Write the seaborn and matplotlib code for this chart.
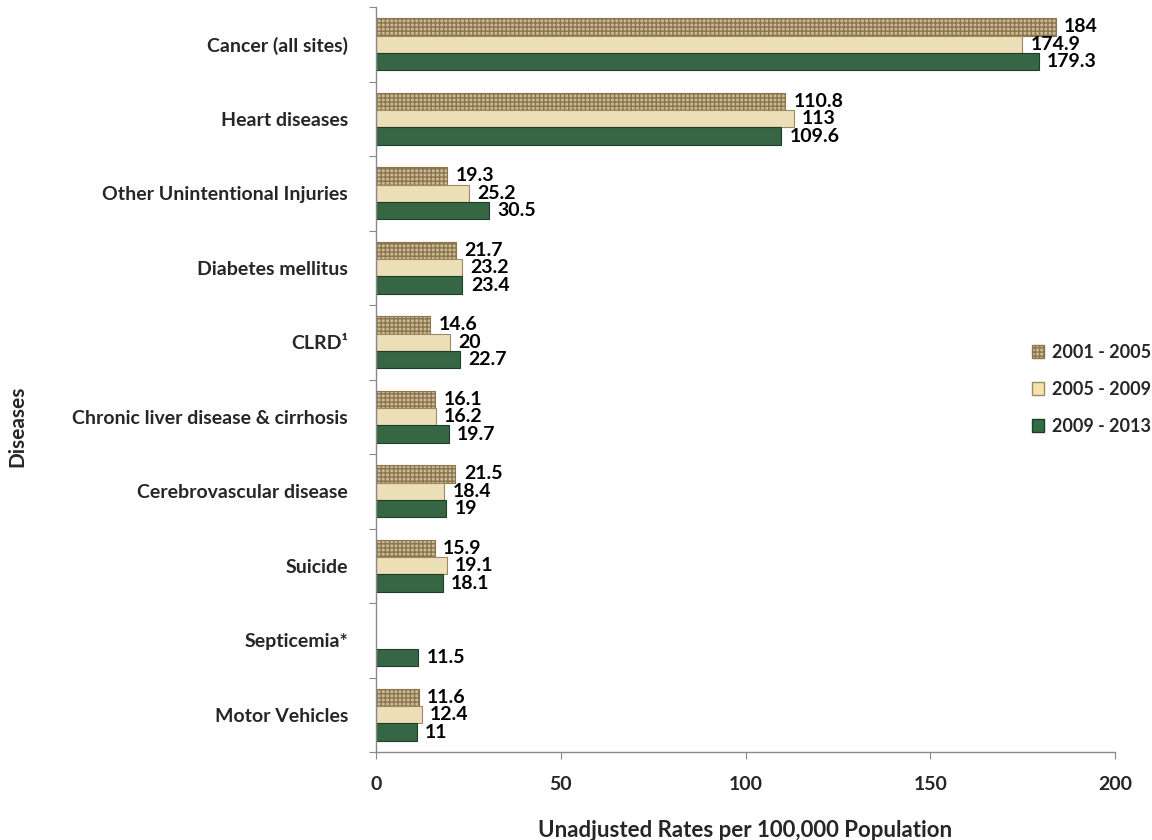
import pandas as pd
import numpy as np
import seaborn as sns
import matplotlib.pyplot as plt
from matplotlib.patches import Patch

# data
diseases = ['Cancer (all sites)', 'Heart diseases', 'Other Unintentional Injuries',
            'Diabetes mellitus', 'CLRD\u00b9', 'Chronic liver disease & cirrhosis',
            'Cerebrovascular disease', 'Suicide', 'Septicemia*', 'Motor Vehicles']
periods = ['2001 - 2005', '2005 - 2009', '2009 - 2013']
rates_2001_2005 = [184, 110.8, 19.3, 21.7, 14.6, 16.1, 21.5, 15.9, np.nan, 11.6]
rates_2005_2009 = [174.9, 113, 25.2, 23.2, 20, 16.2, 18.4, 19.1, np.nan, 12.4]
rates_2009_2013 = [179.3, 109.6, 30.5, 23.4, 22.7, 19.7, 19, 18.1, 11.5, 11]

colors = ['#D6BF86', '#F5E3AE', '#2F6E42']
edges = ['#8A7550', '#9C8A64', '#1E3F27']

df = pd.DataFrame({
    'Disease': diseases * 3,
    'Period': [p for p in periods for _ in diseases],
    'Rate': rates_2001_2005 + rates_2005_2009 + rates_2009_2013,
})

sns.set_style('white')
plt.rcParams['font.family'] = ['Lato', 'DejaVu Sans']
plt.rcParams['font.weight'] = 'bold'

fig = plt.figure(figsize=(11.52, 8.4), dpi=100)
ax = fig.add_axes([376 / 1152, 1 - 752 / 840, (1115 - 376) / 1152, (752 - 7) / 840])

sns.barplot(data=df, y='Disease', x='Rate', hue='Period', order=diseases,
            hue_order=periods, palette=colors, orient='h', width=0.7,
            legend=False, ax=ax)

for i, cont in enumerate(ax.containers):
    for bar in cont:
        bar.set_edgecolor(edges[i])
        bar.set_linewidth(0.8)
        if i == 0:
            bar.set_hatch('++++')
    ax.bar_label(cont, labels=['' if np.isnan(v) else f'{v:g}' for v in cont.datavalues],
                 padding=6, fontsize=14, fontweight='bold', color='black')

ax.set_xlim(0, 200)
ax.set_ylim(len(diseases) - 0.5, -0.5)
ax.set_xticks([0, 50, 100, 150, 200])
ax.set_yticks(np.arange(len(diseases) + 1) - 0.5)
ax.set_yticklabels([])
ax.set_yticks(np.arange(len(diseases)), minor=True)
ax.set_yticklabels(diseases, minor=True, fontsize=14, fontweight='bold')
ax.tick_params(axis='y', which='major', length=5, color='#888888', direction='out', left=True)
ax.tick_params(axis='y', which='minor', length=0, pad=20)
ax.tick_params(axis='x', length=5, color='#888888', direction='out', bottom=True,
               labelsize=14, pad=12)
for lbl in ax.get_xticklabels():
    lbl.set_fontweight('bold')

for s in ['top', 'right']:
    ax.spines[s].set_visible(False)
for s in ['left', 'bottom']:
    ax.spines[s].set_color('#888888')
    ax.spines[s].set_linewidth(1)

ax.set_xlabel('Unadjusted Rates per 100,000 Population', fontsize=16, fontweight='bold', labelpad=20)
ax.set_ylabel('')
fig.text(17 / 1152, 1 - 426 / 840, 'Diseases', rotation=90, fontsize=15,
         fontweight='bold', va='center', ha='center')

handles = [Patch(facecolor=colors[i], edgecolor=edges[i], hatch='++++' if i == 0 else None)
           for i in range(3)]
ax.legend(handles, periods, loc='center left', bbox_to_anchor=(0.875, 0.487),
          frameon=False, borderpad=0, handlelength=0.7, handleheight=0.7, labelspacing=1.1,
          handletextpad=0.4, prop={'weight': 'bold', 'size': 13})

fig.savefig('out.png', dpi=100)
